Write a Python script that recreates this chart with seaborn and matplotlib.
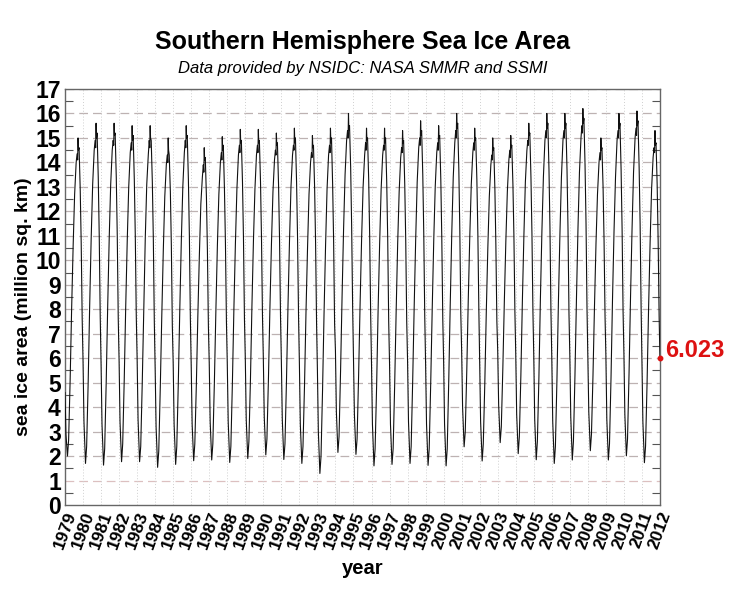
import matplotlib
matplotlib.use("Agg")
import matplotlib.pyplot as plt
import seaborn as sns
import pandas as pd
import numpy as np

# ---- data (million sq. km), read/ ----
years = list(range(1979, 2012))
# day-of-year for each sample in a row
sample_days = [0, 19, 50, 73, 104, 134, 165, 195, 226, 245, 256, 264, 272, 285, 308, 328, 348]
area_rows = [
    [4.6, 2.9, 2.0, 2.65, 5.1, 8.0, 10.6, 12.7, 14.0, 14.35, 14.1, 15.0, 14.5, 14.6, 12.9, 10.7, 7.6],
    [5.9, 3.4, 1.7, 2.4, 5.0, 8.1, 10.9, 13.1, 14.5, 14.9, 14.6, 15.6, 15.0, 15.2, 13.4, 11.0, 7.7],
    [5.8, 3.3, 1.63, 2.3, 5.0, 8.1, 10.9, 13.1, 14.5, 14.9, 14.7, 15.6, 15.1, 15.2, 13.4, 11.0, 7.6],
    [5.9, 3.4, 1.77, 2.5, 5.1, 8.1, 10.8, 13.0, 14.4, 14.8, 14.5, 15.5, 14.9, 15.1, 13.3, 11.0, 7.7],
    [6.0, 3.5, 1.77, 2.4, 5.0, 8.0, 10.9, 13.1, 14.3, 14.9, 14.6, 15.5, 15.0, 14.9, 13.2, 10.9, 7.5],
    [5.6, 3.2, 1.54, 2.2, 4.8, 7.7, 10.4, 12.6, 13.9, 14.3, 14.0, 15.0, 14.5, 14.3, 12.8, 10.6, 7.3],
    [5.8, 3.3, 1.66, 2.4, 5.0, 8.0, 10.8, 13.0, 14.4, 14.9, 14.6, 15.5, 15.0, 15.1, 13.3, 11.0, 7.6],
    [5.7, 3.3, 1.81, 2.5, 4.9, 7.7, 10.2, 12.3, 13.4, 13.9, 13.6, 14.6, 14.1, 14.2, 12.6, 10.4, 7.3],
    [5.8, 3.4, 1.84, 2.5, 5.0, 7.9, 10.6, 12.7, 14.0, 14.4, 14.1, 15.05, 14.5, 14.7, 12.9, 10.7, 7.5],
    [5.8, 3.4, 1.74, 2.4, 5.0, 8.0, 10.7, 12.9, 14.3, 14.7, 14.4, 15.35, 14.8, 14.9, 13.2, 10.9, 7.6],
    [6.0, 3.5, 1.9, 2.6, 5.1, 8.1, 10.8, 12.9, 14.3, 14.7, 14.4, 15.35, 14.8, 14.9, 13.2, 10.9, 7.7],
    [6.0, 3.6, 2.05, 2.7, 5.2, 8.1, 10.7, 12.8, 14.1, 14.5, 14.3, 15.2, 14.7, 14.8, 13.1, 10.9, 7.7],
    [5.9, 3.5, 1.86, 2.5, 5.1, 8.1, 10.8, 13.0, 14.3, 14.7, 14.5, 15.4, 14.8, 15.0, 13.2, 10.9, 7.7],
    [5.8, 3.3, 1.7, 2.4, 4.9, 7.9, 10.5, 12.7, 14.0, 14.4, 14.2, 15.1, 14.6, 14.7, 13.0, 10.7, 7.4],
    [5.5, 3.0, 1.29, 2.0, 4.7, 7.8, 10.6, 12.9, 14.3, 14.7, 14.4, 15.4, 14.8, 15.0, 13.1, 10.8, 7.4],
    [6.3, 3.8, 2.15, 2.8, 5.5, 8.5, 11.3, 13.5, 14.9, 15.3, 15.0, 16.0, 15.3, 15.5, 13.8, 11.4, 8.1],
    [6.1, 3.7, 2.07, 2.7, 5.3, 8.2, 10.9, 13.0, 14.3, 14.8, 14.5, 15.4, 14.9, 15.0, 13.3, 11.0, 7.8],
    [5.8, 3.3, 1.6, 2.3, 4.9, 8.0, 10.7, 12.9, 14.3, 14.7, 14.5, 15.4, 14.8, 15.0, 13.2, 10.9, 7.5],
    [5.8, 3.3, 1.66, 2.3, 4.9, 7.9, 10.7, 12.8, 14.2, 14.6, 14.4, 15.3, 14.8, 14.9, 13.1, 10.8, 7.5],
    [5.9, 3.4, 1.7, 2.4, 5.1, 8.1, 10.9, 13.2, 14.6, 15.0, 14.7, 15.7, 15.1, 15.3, 13.5, 11.1, 7.7],
    [5.8, 3.3, 1.62, 2.3, 5.0, 8.0, 10.8, 13.0, 14.4, 14.8, 14.5, 15.5, 15.0, 15.1, 13.3, 10.9, 7.6],
    [5.9, 3.3, 1.6, 2.3, 5.1, 8.2, 11.1, 13.4, 14.8, 15.3, 15.0, 16.0, 15.4, 15.6, 13.7, 11.2, 7.8],
    [6.3, 4.0, 2.38, 3.0, 5.5, 8.4, 11.0, 13.1, 14.4, 14.8, 14.5, 15.4, 14.9, 15.0, 13.3, 11.1, 8.0],
    [5.8, 3.4, 1.8, 2.5, 5.0, 7.9, 10.5, 12.6, 13.9, 14.3, 14.1, 15.0, 14.5, 14.6, 12.9, 10.6, 7.5],
    [6.3, 4.1, 2.55, 3.2, 5.6, 8.3, 10.8, 12.8, 14.1, 14.5, 14.2, 15.1, 14.6, 14.7, 13.1, 11.0, 7.9],
    [6.2, 3.7, 2.1, 2.8, 5.3, 8.3, 11.0, 13.2, 14.5, 14.9, 14.7, 15.6, 15.1, 15.2, 13.4, 11.1, 7.9],
    [6.1, 3.5, 1.85, 2.6, 5.2, 8.4, 11.2, 13.4, 14.9, 15.3, 15.0, 16.0, 15.4, 15.6, 13.7, 11.3, 7.9],
    [6.0, 3.4, 1.7, 2.4, 5.1, 8.3, 11.1, 13.4, 14.9, 15.3, 15.0, 16.0, 15.4, 15.6, 13.7, 11.3, 7.8],
    [6.1, 3.6, 1.84, 2.6, 5.3, 8.4, 11.3, 13.6, 15.0, 15.5, 15.2, 16.2, 15.6, 15.8, 13.9, 11.5, 8.0],
    [6.0, 3.8, 2.22, 2.9, 5.3, 8.1, 10.7, 12.7, 14.0, 14.4, 14.1, 15.0, 14.5, 14.6, 13.0, 10.8, 7.7],
    [6.1, 3.5, 1.84, 2.5, 5.2, 8.4, 11.2, 13.4, 14.9, 15.3, 15.0, 16.0, 15.4, 15.6, 13.7, 11.3, 7.9],
    [6.2, 3.7, 2.01, 2.7, 5.4, 8.5, 11.3, 13.6, 15.0, 15.4, 15.1, 16.1, 15.5, 15.7, 13.8, 11.5, 8.1],
    [5.8, 3.4, 1.73, 2.4, 5.0, 8.0, 10.7, 12.9, 14.2, 14.6, 14.4, 15.3, 14.7, 14.8, 13.1, 10.8, 7.7],
]
last_day = 364
last_value = 6.023
year_ticks = list(range(1979, 2013))
y_ticks = list(range(0, 18))

# ---- build long table ----
dates, vals = [], []
for yr, row in zip(years, area_rows):
    for d, v in zip(sample_days, row):
        dates.append(yr + d / 365.0)
        vals.append(v)
dates.append(years[-1] + last_day / 365.0)
vals.append(last_value)
df = pd.DataFrame({"year": dates, "area": vals})

sns.set_style("white")
plt.rcParams["font.family"] = ["Liberation Sans", "DejaVu Sans"]
plt.rcParams["text.color"] = "black"
plt.rcParams["axes.labelcolor"] = "black"
plt.rcParams["xtick.color"] = "black"
plt.rcParams["ytick.color"] = "black"

fig = plt.figure(figsize=(7.32, 5.94), dpi=100)
ax = fig.add_axes([0.0888, 0.1498, 0.8128, 0.7004])

# grid
for yv in y_ticks[1:]:
    col = "#dcc0c0" if yv == 1 else "#bdb2b2"
    ax.axhline(yv, color=col, lw=0.9, ls=(0, (7, 4)), zorder=1)
for xv in year_ticks[1:-1]:
    ax.axvline(xv, color="#cfcfcf", lw=0.7, ls=(0, (1, 2)), zorder=1)

sns.lineplot(data=df, x="year", y="area", ax=ax, color="#111111", lw=0.8,
             estimator=None, sort=False, zorder=3)
ax.plot([dates[-1]], [last_value], "o", color="#dd1111", ms=3.2, zorder=4, clip_on=False)
ax.text(dates[-1] + 0.28, last_value + 0.3, f"{last_value:.3f}", color="#dd1111",
        fontsize=17, fontweight="bold", va="center", ha="left", clip_on=False)

ax.set_xlim(1979, 2012)
ax.set_ylim(0, 17)
ax.set_xticks(year_ticks)
ax.set_xticklabels([str(y) for y in year_ticks], rotation=70, ha="center",
                   va="top", fontsize=12.5, fontweight="bold")
ax.set_yticks(y_ticks)
ax.set_yticklabels([str(y) for y in y_ticks], fontsize=16.5, fontweight="bold")
ax.set_yticks(np.arange(0.5, 17, 1.0), minor=True)
ax.tick_params(axis="y", which="minor", direction="in", length=6, width=0.8,
               color="#555555", left=True, right=True)
ax.tick_params(axis="y", which="major", length=0, pad=3)
ax.tick_params(axis="x", which="both", direction="in", length=0, pad=3)
for s in ax.spines.values():
    s.set_color("#666666")
    s.set_linewidth(1.0)

ax.set_xlabel("year", fontsize=14.5, fontweight="bold", labelpad=6)
ax.set_ylabel("sea ice area (million sq. km)", fontsize=14, fontweight="bold")
ax.yaxis.set_label_coords(-0.056, 0.476)

fig.text(0.4952, 0.929, "Southern Hemisphere Sea Ice Area", ha="center", va="center",
         fontsize=18, fontweight="bold")
fig.text(0.4952, 0.885, "Data provided by NSIDC: NASA SMMR and SSMI", ha="center",
         va="center", fontsize=12, style="italic")

fig.savefig("out.png", dpi=100)
